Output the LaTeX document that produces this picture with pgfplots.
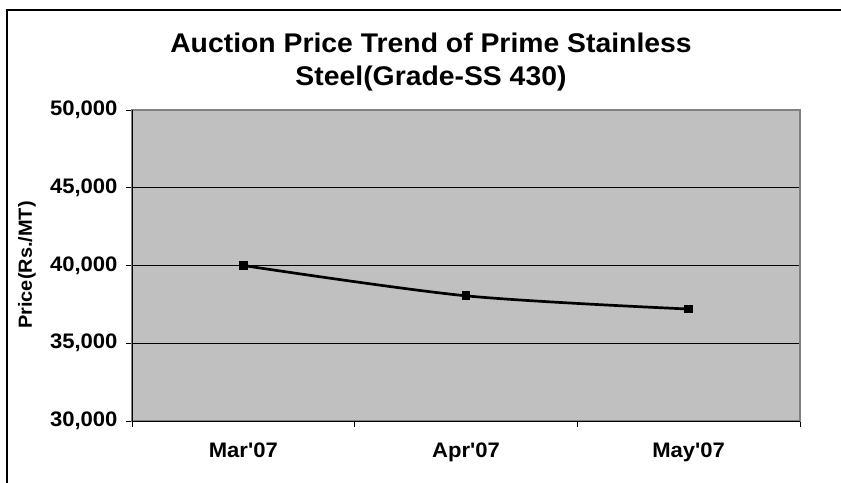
\documentclass[border=0pt]{standalone}
\usepackage{fontspec}
\setmainfont{Liberation Sans}[FakeStretch=1.05, Ligatures=TeXOff]
\usepackage{pgfplots}
\pgfplotsset{compat=1.18}
\definecolor{plotbg}{HTML}{C0C0C0}
\definecolor{bord}{HTML}{808080}
\begin{document}
\begin{tikzpicture}
\useasboundingbox (0,0) rectangle (841bp,-483bp);
\fill[white] (0,0) rectangle (841bp,-483bp);
\draw[black, line width=1.5bp] (7bp,-490bp) -- (7bp,-10bp) -- (850bp,-10bp);
\node[anchor=base, font=\bfseries\fontsize{27bp}{32bp}\selectfont] at (431bp,-52bp) {Auction Price Trend of Prime Stainless};
\node[anchor=base, font=\bfseries\fontsize{27bp}{32bp}\selectfont] at (431bp,-85bp) {Steel(Grade-SS 430)};
\begin{axis}[
  anchor=south west, at={(132bp,-421bp)},
  scale only axis, width=668bp, height=311bp,
  xmin=-0.5, xmax=2.5, ymin=30000, ymax=50000,
  scaled y ticks=false,
  axis background/.style={fill=plotbg},
  axis line style={draw=bord, line width=1.5bp},
  xtick={0,1,2}, xticklabels={Mar'07,Apr'07,May'07},
  major x tick style={draw=none},
  minor xtick={-0.5,0.5,1.5,2.5},
  minor x tick style={black, line width=0.8bp},
  minor tick length=6bp,
  ytick={30000,35000,40000,45000,50000},
  yticklabels={{30,000},{35,000},{40,000},{45,000},{50,000}},
  major y tick style={black, line width=0.8bp},
  major tick length=6bp,
  tick align=outside, xtick pos=bottom, ytick pos=left,
  ymajorgrids, grid style={black, line width=0.7bp},
  ticklabel style={font=\bfseries\fontsize{21bp}{25bp}\selectfont},
  xticklabel style={yshift=-12bp},
  yticklabel style={xshift=-5bp},
  clip=false,
]
\addplot[black, line width=2.7bp, smooth, mark=square*, mark size=3bp, mark options={solid}]
  coordinates {(0,40000) (1,38050) (2,37200)};
\draw[black, line width=1bp] (rel axis cs:0,1) -- (rel axis cs:0,0) -- (rel axis cs:1,0);
\end{axis}
\node[rotate=90, font=\bfseries\fontsize{19bp}{23bp}\selectfont] at (27bp,-265bp) {Price(Rs./MT)};
\end{tikzpicture}
\end{document}
